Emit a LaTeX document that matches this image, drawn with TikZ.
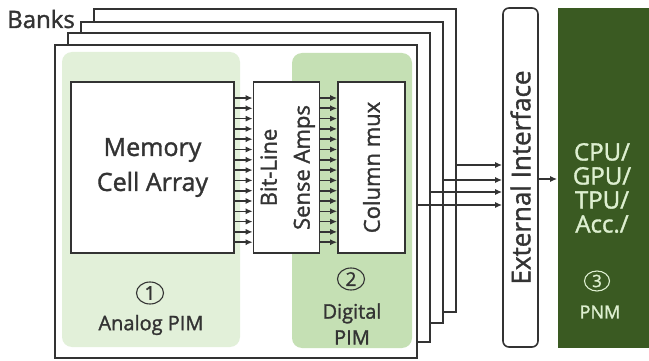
\documentclass[tikz,border=0pt]{standalone}
\usepackage{fontspec}
\setmainfont{Open Sans}[FakeBold=1.4]
\usetikzlibrary{arrows.meta,shapes.geometric}
\definecolor{linegray}{HTML}{333333}
\definecolor{analoggreen}{HTML}{E2F0D9}
\definecolor{digitalgreen}{HTML}{C5E0B4}
\definecolor{pnmgreen}{HTML}{3A5A22}
\definecolor{pnmtext}{HTML}{DDEFD0}
\begin{document}
\begin{tikzpicture}[x=1pt, y=-1pt, >={Latex[length=7pt,width=6pt]},
      line width=1.6pt, color=linegray,
      bank/.style={draw, fill=white, minimum width=362, minimum height=#1, inner sep=0},
      region/.style={rounded corners=10pt, minimum height=295, inner sep=0},
      box/.style={draw, fill=white, minimum height=171, inner sep=0, align=center},
      num/.style={ellipse, draw, line width=1.1pt, minimum width=27, minimum height=22, inner sep=0, font=\fontsize{19}{19}\selectfont},
      pimlabel/.style={align=center, font=\fontsize{20}{26}\selectfont},
      pnmtxt/.style={text=pnmtext, align=center}]
    \useasboundingbox (0,0) rectangle (649,361);
    \node[bank=303] (bank4) at (275,160.5) {};
    \node[bank=301] (bank3) at (262,172.5) {};
    \node[bank=309] (bank2) at (249,187.5) {};
    \node[bank=313] (bank1) at (236,201.5) {};
    \node[anchor=base east, font=\fontsize{24}{24}\selectfont] (banks) at (79,28) {Banks};
    \node[region, fill=analoggreen, minimum width=178] (analog) at (151,199.5) {};
    \node[region, fill=digitalgreen, minimum width=120] (digital) at (352,200.5) {};
    \node[box, minimum width=163, font=\fontsize{25}{35}\selectfont] (mca) at (152.5,167.5) {Memory\\Cell Array};
    \node[box, minimum width=59] (blsa) at (286.5,167.5) {\rotatebox{90}{\fontsize{22}{33}\selectfont\begin{tabular}{@{}c@{}}Bit-Line\\Sense Amps\end{tabular}}};
    \node[box, minimum width=67] (cmux) at (371.5,167.5) {\rotatebox{90}{\fontsize{22}{22}\selectfont Column mux}};
    \node[num] (n1) at (150,293) {1};
    \node[pimlabel] (analoglabel) at (151,325) {Analog PIM};
    \node[num] (n2) at (351,279) {2};
    \node[pimlabel] (digitallabel) at (352,324) {Digital\\PIM};
    \node[draw, fill=white, rounded corners=6pt, minimum width=35, minimum height=339, inner sep=0] (ext) at (520.5,177.5) {\rotatebox{90}{\fontsize{26}{26}\selectfont External Interface}};
    \node[fill=pnmgreen, minimum width=91, minimum height=340, inner sep=0] (pnm) at (603.5,178) {};
    \node[pnmtxt, font=\fontsize{24}{24}\selectfont] (accel) at (602,188) {CPU/\\GPU/\\TPU/\\Acc./};
    \node[num, draw=pnmtext, text=pnmtext, minimum width=25, minimum height=20, font=\fontsize{17}{17}\selectfont] (n3) at (597,281) {3};
    \node[pnmtxt, font=\fontsize{18}{18}\selectfont] (pnmlabel) at (600,312) {PNM};
    \foreach \i in {0,...,14} {
      \pgfmathsetmacro\yy{98+10.3*\i}
      \draw[->] (mca.east |- 0,\yy) -- (blsa.west |- 0,\yy);
      \draw[->] (blsa.east |- 0,\yy) -- (cmux.west |- 0,\yy);
    }
    \draw[->] (bank4.east |- 0,165) -- (ext.west |- 0,165);
    \draw[->] (bank3.east |- 0,180) -- (ext.west |- 0,180);
    \draw[->] (bank2.east |- 0,192) -- (ext.west |- 0,192);
    \draw[->] (bank1.east |- 0,205) -- (ext.west |- 0,205);
    \draw[->] (ext.east |- 0,179) -- (pnm.west |- 0,179);
  \end{tikzpicture}
\end{document}
